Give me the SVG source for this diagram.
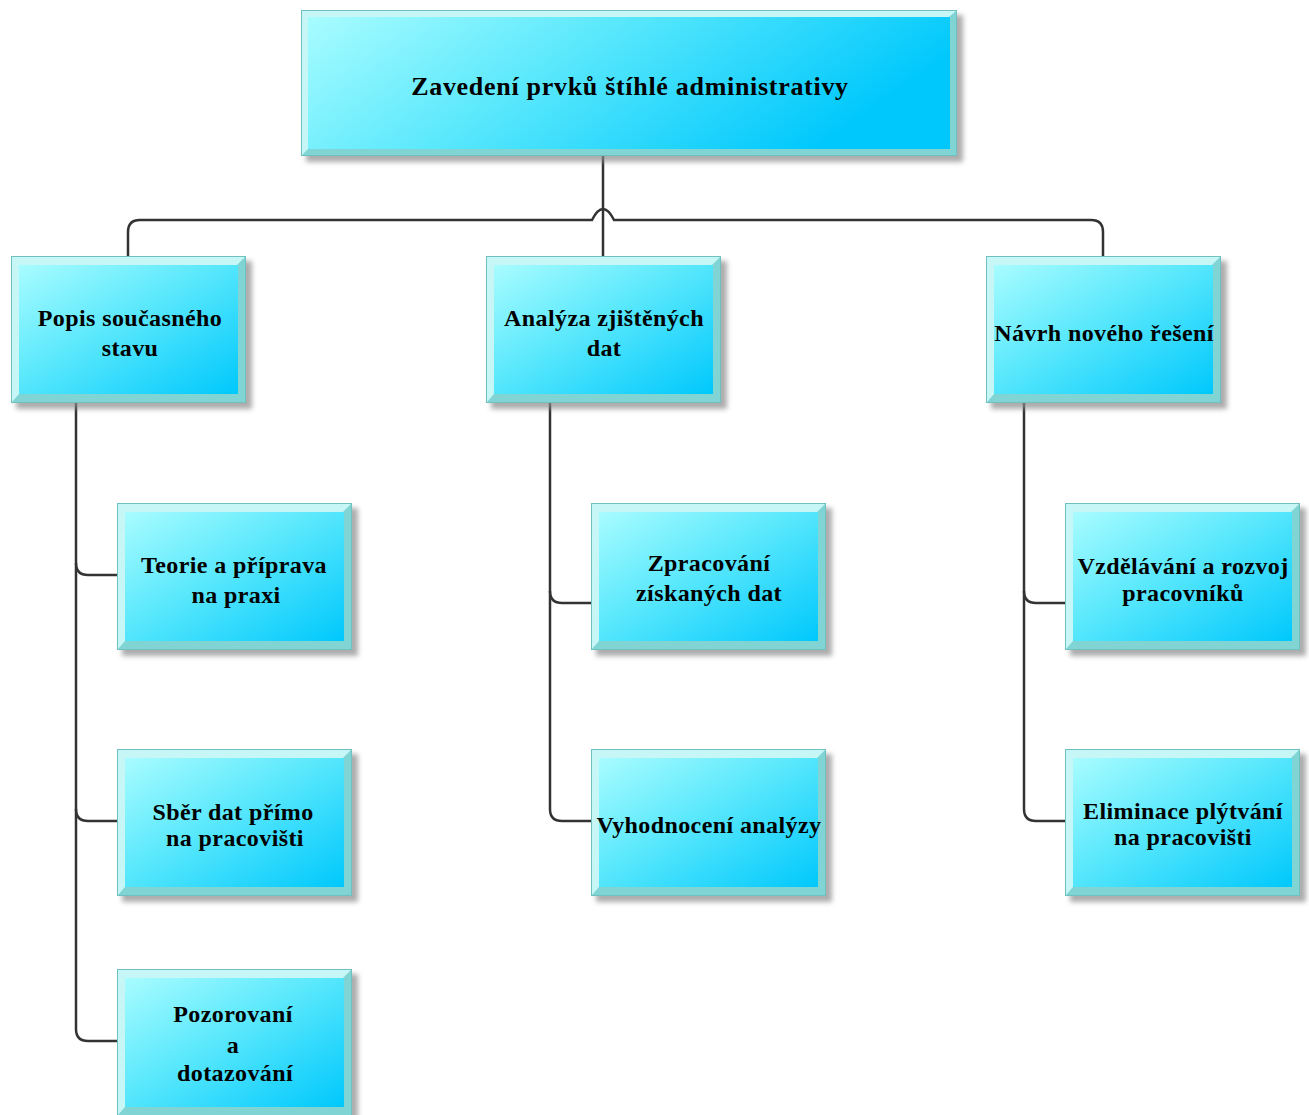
<svg xmlns="http://www.w3.org/2000/svg" xmlns:xlink="http://www.w3.org/1999/xlink" width="1309" height="1115" viewBox="0 0 1309 1115">
<style>
  text { font-family: "Liberation Serif", "Times New Roman", serif; font-weight: bold; fill: #000; text-anchor: middle; }
  .t1 { font-size: 26px; letter-spacing: 0.7px; }
  .t2 { font-size: 24px; letter-spacing: 0.4px; }
  .conn { fill: none; stroke: #333; stroke-width: 2.5; }
</style>
<defs>
  <linearGradient id="fillg" x1="0" y1="0" x2="1" y2="1">
    <stop offset="0" stop-color="#a8fcff"/>
    <stop offset="0.45" stop-color="#5ae8fc"/>
    <stop offset="1" stop-color="#00c8fc"/>
  </linearGradient>
  <linearGradient id="fillr" x1="0" y1="0" x2="1" y2="0.3">
    <stop offset="0" stop-color="#a8fcff"/>
    <stop offset="0.45" stop-color="#5ae8fc"/>
    <stop offset="1" stop-color="#00c8fc"/>
  </linearGradient>
  <filter id="blur" x="-10%" y="-10%" width="120%" height="120%">
    <feGaussianBlur stdDeviation="2.5"/>
  </filter>
  <symbol id="box" viewBox="0 0 235 147" width="235" height="147" overflow="visible">
    <rect x="5" y="5" width="236" height="148" fill="#8a8a8a" opacity="0.7" filter="url(#blur)"/>
    <rect x="0.5" y="0.5" width="234" height="146" fill="#80d4d4" stroke="#70c0c0"/>
    <polygon points="1,1 234,1 226,9 8,9 8,138 1,146" fill="#c6f6f6"/>
    <rect x="8" y="9" width="219" height="129" fill="url(#fillg)"/>
  </symbol>
</defs>

<g id="connectors">
  <path class="conn" d="M603,156 V256"/>
  <path class="conn" d="M128,256 V232 Q128,220 140,220 H592 Q603,198 614,220 H1091 Q1103,220 1103,232 V256"/>
  <path class="conn" d="M76,403 V1029 Q76,1041 88,1041 H117"/>
  <path class="conn" d="M76,563 Q76,575 88,575 H117"/>
  <path class="conn" d="M76,809 Q76,821 88,821 H117"/>
  <path class="conn" d="M550,403 V809 Q550,821 562,821 H591"/>
  <path class="conn" d="M550,591 Q550,603 562,603 H591"/>
  <path class="conn" d="M1024,403 V809 Q1024,821 1036,821 H1065"/>
  <path class="conn" d="M1024,591 Q1024,603 1036,603 H1065"/>
</g>

<g id="root">
  <rect x="306" y="15" width="657" height="147" fill="#8a8a8a" opacity="0.7" filter="url(#blur)"/>
  <rect x="301.5" y="10.5" width="655" height="145" fill="#80d4d4" stroke="#70c0c0"/>
  <polygon points="302,11 956,11 949,17 308,17 308,149 302,155" fill="#c6f6f6"/>
  <rect x="308" y="17" width="642" height="132" fill="url(#fillr)"/>
  <text class="t1" x="630" y="95">Zavedení prvků štíhlé administrativy</text>
</g>

<g id="popis">
  <use xlink:href="#box" x="11" y="256"/>
  <text class="t2" x="130" y="326">Popis současného</text>
  <text class="t2" x="130" y="356">stavu</text>
</g>
<g id="analyza">
  <use xlink:href="#box" x="486" y="256"/>
  <text class="t2" x="604" y="326">Analýza zjištěných</text>
  <text class="t2" x="604" y="356">dat</text>
</g>
<g id="navrh">
  <use xlink:href="#box" x="986" y="256"/>
  <text class="t2" x="1104" y="341">Návrh nového řešení</text>
</g>

<g id="teorie">
  <use xlink:href="#box" x="117" y="503"/>
  <text class="t2" x="234" y="573">Teorie a příprava</text>
  <text class="t2" x="236" y="603">na praxi</text>
</g>
<g id="sber">
  <use xlink:href="#box" x="117" y="749"/>
  <text class="t2" x="233" y="820">Sběr dat přímo</text>
  <text class="t2" x="235" y="846">na pracovišti</text>
</g>
<g id="pozorovani">
  <use xlink:href="#box" x="117" y="969"/>
  <text class="t2" x="233" y="1022">Pozorovaní</text>
  <text class="t2" x="233" y="1053">a</text>
  <text class="t2" x="235" y="1081">dotazování</text>
</g>

<g id="zpracovani">
  <use xlink:href="#box" x="591" y="503"/>
  <text class="t2" x="709" y="571">Zpracování</text>
  <text class="t2" x="709" y="601">získaných dat</text>
</g>
<g id="vyhodnoceni">
  <use xlink:href="#box" x="591" y="749"/>
  <text class="t2" x="709" y="833">Vyhodnocení analýzy</text>
</g>

<g id="vzdelavani">
  <use xlink:href="#box" x="1065" y="503"/>
  <text class="t2" x="1183" y="574">Vzdělávání a rozvoj</text>
  <text class="t2" x="1183" y="601">pracovníků</text>
</g>
<g id="eliminace">
  <use xlink:href="#box" x="1065" y="749"/>
  <text class="t2" x="1183" y="819">Eliminace plýtvání</text>
  <text class="t2" x="1183" y="845">na pracovišti</text>
</g>
</svg>
